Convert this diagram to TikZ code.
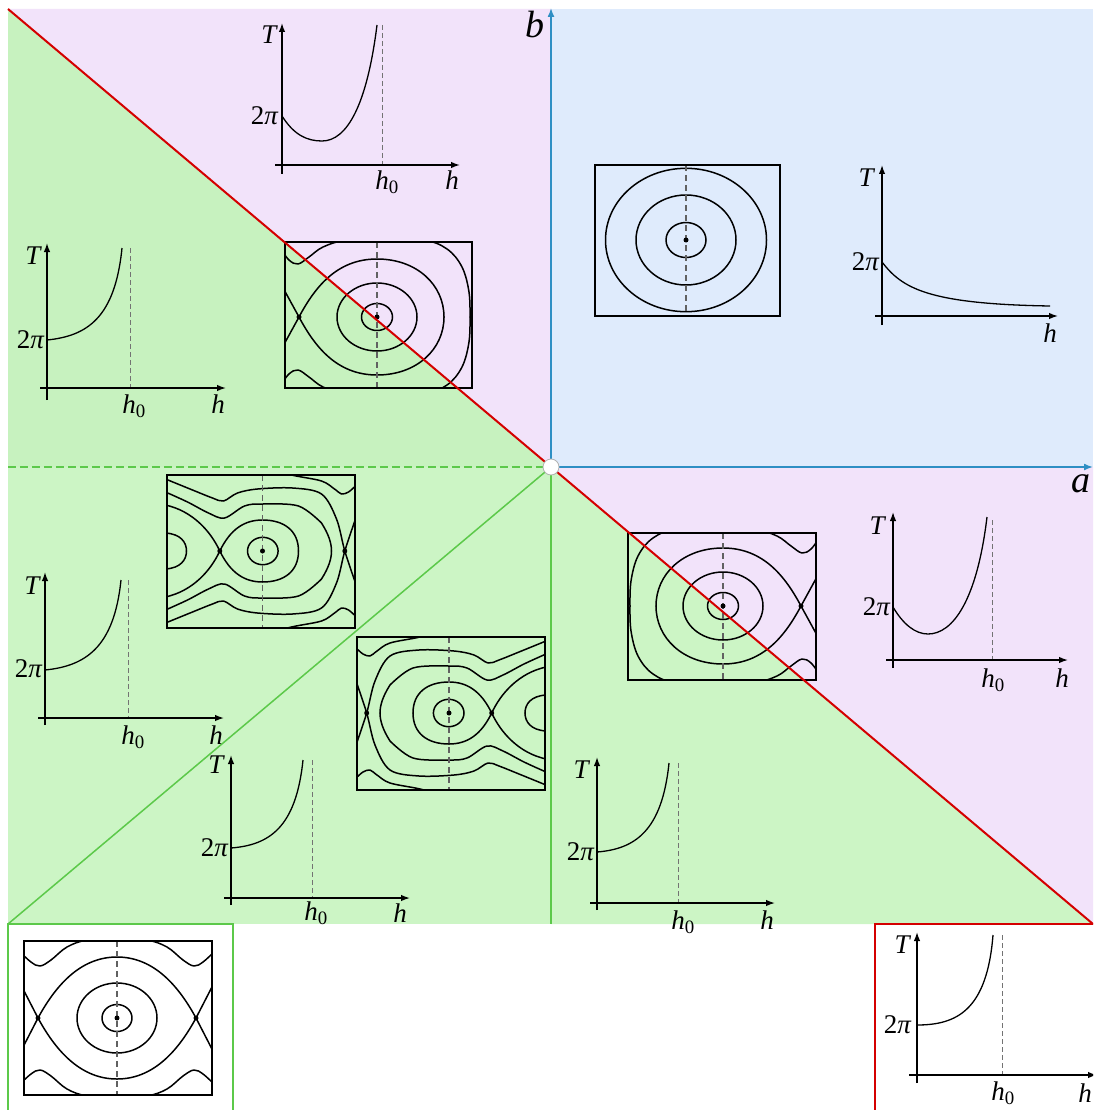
\documentclass[tikz,border=0pt]{standalone}
\usepackage{fontspec}
\newfontfamily\tms{Liberation Serif}
\usetikzlibrary{arrows.meta}
\definecolor{lav}{HTML}{F2E3FA}
\definecolor{sky}{HTML}{DFEBFC}
\definecolor{gA}{HTML}{C7F2BF}
\definecolor{gB}{HTML}{CCF5C5}
\definecolor{redl}{HTML}{D40000}
\definecolor{bluel}{HTML}{2E8FC4}
\definecolor{greenl}{HTML}{5CC94A}
\newcommand\TT{\itshape T}
\newcommand\HH{\itshape h}
\newcommand\HO{{\itshape h}\textsubscript{0}}
\newcommand\TP{2\itshape π}
\tikzset{
 pp/.style={line width=1.5pt, line join=round, line cap=round},
 pbox/.style={line width=1.3pt},
 mid/.style={line width=1.3pt, dash pattern=on 6pt off 4pt, draw=black!62},
 ax/.style={line width=1.4pt, -{Latex[length=9pt,width=6.5pt]}},
 tc/.style={line width=1.3pt},
 h0l/.style={line width=1pt, dash pattern=on 5pt off 3pt, draw=black!55},
 lab/.style={font=\tms\fontsize{27}{30}\selectfont, inner sep=0pt},
 big/.style={font=\tms\itshape\fontsize{38}{42}\selectfont, inner sep=0pt},
 dotn/.style={circle, fill=black, inner sep=0pt, minimum size=5pt},
}
% half portraits (top halves, local coordinates, centre at origin)
\newcommand\pendhalf{%
 \draw[pp] (-96,33) -- (-79,0) .. controls (-60,-35) and (-35,-61) .. (0,-61) .. controls (35,-61) and (60,-35) .. (79,0) -- (96,33);
 \draw[pp] plot[smooth,tension=0.6] coordinates {(-97,-66) (-86,-56) (-77,-52) (-66,-58) (-50,-71) (-30,-78) (0,-80) (30,-78) (50,-71) (66,-58) (77,-52) (86,-56) (97,-66)};
}
\newcommand\onehalf{%
 \draw[pp] (-95,31) -- (-78,0) .. controls (-62,-30) and (-40,-58) .. (0,-58) .. controls (40,-58) and (67,-32) .. (67,0);
 \draw[pp] plot[smooth,tension=0.6] coordinates {(-97,-69) (-88,-57) (-79,-53) (-68,-60) (-54,-70) (-31,-77) (0,-78) (46,-77) (70,-68) (85,-50) (92,-25) (93,0)};
}
\newcommand\twohalf{%
 \draw[pp] (-42.7,0) .. controls (-32,-22) and (-18,-31) .. (0,-31) .. controls (22,-31) and (36,-20) .. (36,0);
 \draw[pp] (-42.7,0) .. controls (-52,-20) and (-70,-40) .. (-97,-46);
 \draw[pp] (-97,-18) .. controls (-82,-17) and (-76,-9) .. (-76,0);
 \draw[pp] plot[smooth,tension=0.55] coordinates {(-97,-59) (-75,-49) (-54,-38) (-38,-33) (-18,-45) (0,-47) (36,-45) (59,-28)} .. controls (66,-17) and (69,-8) .. (69,0);
 \draw[pp] plot[smooth,tension=0.55] coordinates {(-97,-72) (-70,-61) (-50,-53) (-39,-50) (-25,-58) (-5,-62) (30,-63) (59,-57) (74,-32) (82.3,0) (93,32)};
 \draw[pp] plot[smooth,tension=0.55] coordinates {(0,-84) (29,-76) (59,-70) (72,-62) (79,-57) (86,-59) (93,-65) (97,-68)};
}
\begin{document}
\begin{tikzpicture}[x=1pt,y=-1pt]
\useasboundingbox (0,0) rectangle (1093,1110);
\clip (0,0) rectangle (1093,1110);
% named corner points
\coordinate (O) at (551,467);
\coordinate (TL) at (8,9);
\coordinate (BR) at (1093,924);
\coordinate (BL) at (8,924);
\coordinate (ML) at (8,467);
\coordinate (BM) at (551,924);
\coordinate (TopEnd) at (551,8);
\coordinate (RightEnd) at (1093,467);
% regions
\fill[sky] (551,9) rectangle (1093,467);
\fill[lav] (TL) -- (551,9) -- (O) -- cycle;
\fill[lav] (O) -- (RightEnd) -- (BR) -- cycle;
\fill[gA] (TL) -- (O) -- (ML) -- cycle;
\fill[gB] (ML) rectangle (BM);
\fill[gB] (O) -- (BR) -- (BM) -- cycle;

% ---------- phase portraits ----------
% P1
\begin{scope}
 \clip (285,242) rectangle (472,388);
 \begin{scope}[shift={(377,317)}]
  \onehalf
  \begin{scope}[yscale=-1]\onehalf\end{scope}
  \draw[pp] (0,0) ellipse [x radius=15.5pt, y radius=13.5pt];
  \draw[pp] (0,0) ellipse [x radius=40pt, y radius=34pt];
 \end{scope}
\end{scope}
\draw[mid] (377,242) -- (377,388);
\draw[pbox] (285,242) rectangle (472,388);
\node[dotn] (p1c) at (377,317) {};
\node[dotn] (p1s) at (299,317) {};
% P2
\begin{scope}[shift={(686,240)}]
 \draw[pp] (0,0) ellipse [x radius=20pt, y radius=17.5pt];
 \draw[pp] (0,0) ellipse [x radius=50pt, y radius=45pt];
 \draw[pp] (0,0) ellipse [x radius=80.5pt, y radius=71.7pt];
\end{scope}
\draw[mid] (686,165) -- (686,316);
\draw[pbox] (595,165) rectangle (780,316);
\node[dotn] (p2c) at (686,240) {};
% P3
\begin{scope}
 \clip (167,475) rectangle (355,628);
 \begin{scope}[shift={(262.5,551)}]
  \twohalf
  \begin{scope}[yscale=-1]\twohalf\end{scope}
  \draw[pp] (0.3,0) ellipse [x radius=15.3pt, y radius=13.7pt];
 \end{scope}
\end{scope}
\draw[mid] (262.5,475) -- (262.5,628);
\draw[pbox] (167,475) rectangle (355,628);
\node[dotn] (p3c) at (262.5,551) {};
\node[dotn] (p3s1) at (219.8,551) {};
\node[dotn] (p3s2) at (344.8,551) {};
% P4 (mirror of P3)
\begin{scope}
 \clip (357,637) rectangle (545,790);
 \begin{scope}[shift={(449,713)}, xscale=-1]
  \twohalf
  \begin{scope}[yscale=-1]\twohalf\end{scope}
  \draw[pp] (0.3,0) ellipse [x radius=15.3pt, y radius=13.7pt];
 \end{scope}
\end{scope}
\draw[mid] (449,637) -- (449,790);
\draw[pbox] (357,637) rectangle (545,790);
\node[dotn] (p4c) at (449,713) {};
\node[dotn] (p4s1) at (491.7,713) {};
\node[dotn] (p4s2) at (366.7,713) {};
% P5 (mirror of P1)
\begin{scope}
 \clip (628,533) rectangle (816,680);
 \begin{scope}[shift={(723,606)}, xscale=-1]
  \onehalf
  \begin{scope}[yscale=-1]\onehalf\end{scope}
  \draw[pp] (0,0) ellipse [x radius=15.5pt, y radius=13.5pt];
  \draw[pp] (0,0) ellipse [x radius=40pt, y radius=34pt];
 \end{scope}
\end{scope}
\draw[mid] (723,533) -- (723,680);
\draw[pbox] (628,533) rectangle (816,680);
\node[dotn] (p5c) at (723,606) {};
\node[dotn] (p5s) at (801,606) {};
% P6 pendulum
\begin{scope}
 \clip (24,941) rectangle (212,1095);
 \begin{scope}[shift={(117,1018)}]
  \pendhalf
  \begin{scope}[yscale=-1]\pendhalf\end{scope}
  \draw[pp] (0,0) ellipse [x radius=15pt, y radius=13.5pt];
  \draw[pp] (0,0) ellipse [x radius=40pt, y radius=35pt];
 \end{scope}
\end{scope}
\draw[mid] (117,941) -- (117,1095);
\draw[pbox] (24,941) rectangle (212,1095);
\node[dotn] (p6c) at (117,1018) {};
\node[dotn] (p6s1) at (38,1018) {};
\node[dotn] (p6s2) at (196,1018) {};

% ---------- T(h) graphs ----------
% G1
\begin{scope}[shift={(282,165)}]
 \draw[h0l] (100,-140) -- (100,0);
 \draw[ax] (0,9) -- (0,-142);
 \draw[ax] (-7,0) -- (178,0);
 \draw[tc] (0,-49) .. controls (12,-30) and (25,-24) .. (40,-24) .. controls (65,-24) and (85,-60) .. (95,-140);
 \node[lab] (g1T) at (-13,-130) {\TT};
 \node[lab,anchor=east] (g1p) at (-4,-49) {\TP};
 \node[lab] (g1h0) at (105,17) {\HO};
 \node[lab] (g1h) at (170,15) {\HH};
\end{scope}
% G2
\begin{scope}[shift={(47,388)}]
 \draw[h0l] (83,-140) -- (83,0);
 \draw[ax] (0,12) -- (0,-145);
 \draw[ax] (-7,0) -- (179,0);
 \draw[tc] (0,-48) .. controls (40,-52) and (68,-70) .. (75,-140);
 \node[lab] (g2T) at (-14,-132) {\TT};
 \node[lab,anchor=east] (g2p) at (-3,-48) {\TP};
 \node[lab] (g2h0) at (87,18) {\HO};
 \node[lab] (g2h) at (171,16) {\HH};
\end{scope}
% G3
\begin{scope}[shift={(882,316)}]
 \draw[ax] (0,9) -- (0,-151);
 \draw[ax] (-7,0) -- (176,0);
 \draw[tc] (0,-54) .. controls (20,-28) and (45,-12) .. (168,-10);
 \node[lab] (g3T) at (-16,-138) {\TT};
 \node[lab,anchor=east] (g3p) at (-3,-54) {\TP};
 \node[lab] (g3h) at (168,17) {\HH};
\end{scope}
% G4
\begin{scope}[shift={(893,660)}]
 \draw[h0l] (99,-140) -- (99,0);
 \draw[ax] (0,8) -- (0,-148);
 \draw[ax] (-7,0) -- (175,0);
 \draw[tc] (0,-53) .. controls (10,-36) and (22,-26) .. (35,-26) .. controls (60,-26) and (84,-60) .. (94,-143);
 \node[lab] (g4T) at (-16,-134) {\TT};
 \node[lab,anchor=east] (g4p) at (-3,-53) {\TP};
 \node[lab] (g4h0) at (100,20) {\HO};
 \node[lab] (g4h) at (169,18) {\HH};
\end{scope}
% G5
\begin{scope}[shift={(45,718)}]
 \draw[h0l] (83,-138) -- (83,0);
 \draw[ax] (0,7) -- (0,-146);
 \draw[ax] (-7,0) -- (179,0);
 \draw[tc] (0,-48) .. controls (40,-52) and (69,-70) .. (76,-138);
 \node[lab] (g5T) at (-13,-132) {\TT};
 \node[lab,anchor=east] (g5p) at (-3,-49) {\TP};
 \node[lab] (g5h0) at (88,19) {\HO};
 \node[lab] (g5h) at (171,17) {\HH};
\end{scope}
% G6
\begin{scope}[shift={(231,898)}]
 \draw[h0l] (81,-138) -- (81,0);
 \draw[ax] (0,7) -- (0,-143);
 \draw[ax] (-7,0) -- (179,0);
 \draw[tc] (0,-50) .. controls (38,-53) and (65,-70) .. (72,-138);
 \node[lab] (g6T) at (-15,-133) {\TT};
 \node[lab,anchor=east] (g6p) at (-3,-50) {\TP};
 \node[lab] (g6h0) at (85,15) {\HO};
 \node[lab] (g6h) at (169,15) {\HH};
\end{scope}
% G7
\begin{scope}[shift={(597,903)}]
 \draw[h0l] (81,-140) -- (81,0);
 \draw[ax] (0,7) -- (0,-146);
 \draw[ax] (-7,0) -- (178,0);
 \draw[tc] (0,-51) .. controls (38,-54) and (65,-72) .. (72,-140);
 \node[lab] (g7T) at (-16,-133) {\TT};
 \node[lab,anchor=east] (g7p) at (-3,-51) {\TP};
 \node[lab] (g7h0) at (86,19) {\HO};
 \node[lab] (g7h) at (170,17) {\HH};
\end{scope}
% G8
\begin{scope}[shift={(917,1075)}]
 \draw[h0l] (85,-140) -- (85,0);
 \draw[ax] (0,8) -- (0,-143);
 \draw[ax] (-8,0) -- (180,0);
 \draw[tc] (0,-50) .. controls (40,-50) and (70,-65) .. (76,-140);
 \node[lab] (g8T) at (-15,-130) {\TT};
 \node[lab,anchor=east] (g8p) at (-6,-50) {\TP};
 \node[lab] (g8h0) at (86,18) {\HO};
 \node[lab] (g8h) at (168,18) {\HH};
\end{scope}

% ---------- region borders ----------
\draw[greenl, line width=1.5pt, dash pattern=on 8pt off 4pt] (ML) -- (O);
\draw[greenl, line width=1.5pt] (O) -- (BL);
\draw[greenl, line width=1.5pt] (O) -- (BM);
\draw[redl, line width=2pt] (TL) -- (BR);
\draw[bluel, line width=1.5pt, -{Latex[length=9pt,width=7pt]}] (O) -- (TopEnd);
\draw[bluel, line width=1.5pt, -{Latex[length=9pt,width=7pt]}] (O) -- (RightEnd);
\node[circle, fill=white, draw=black!30, line width=0.8pt, minimum size=16pt, inner sep=0pt] (Ocirc) at (O) {};
\node[big] (blab) at (535,25) {b};
\node[big] (alab) at (1081,484) {a};
% bottom panels
\draw[greenl, line width=1.5pt] (8,1115) -- (BL) -- (233,924) -- (233,1115);
\draw[redl, line width=2pt] (875,1115) -- (875,924) -- (1096,924);
\end{tikzpicture}
\end{document}
